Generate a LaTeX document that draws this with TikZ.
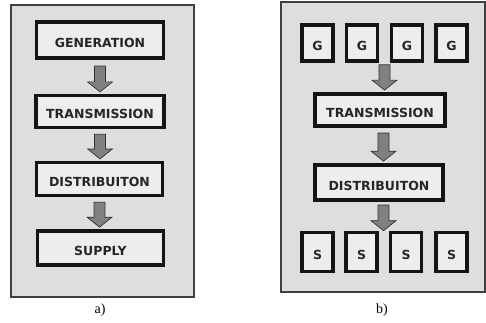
\documentclass[tikz,border=0pt]{standalone}
\usepackage{fontspec}
\setsansfont{DejaVu Sans}
\newfontfamily\capfont{Liberation Serif}
\usetikzlibrary{calc}
\definecolor{panelgray}{gray}{0.87}
\definecolor{boxgray}{gray}{0.93}
\definecolor{arrgray}{gray}{0.5}
\tikzset{
  panel/.style={draw=black!75, line width=1.3pt, fill=panelgray},
  wbox/.style={draw=black!92, line width=3.6pt, fill=boxgray, inner sep=0pt,
    font=\sffamily\bfseries\fontsize{12.5}{14}\selectfont, text=black!85,
    text height=15pt, text depth=0pt},
  sbox/.style={wbox, minimum width=31pt, minimum height=36pt},
  blockarr/.style={draw=black!80, line width=0.7pt, fill=arrgray, line join=miter},
  caption/.style={font=\capfont\fontsize{14}{16}\selectfont}
}
\newcommand\barrow[2]{\draw[blockarr] let \p1=(#1), \p2=(#2) in
  (\x1-5.5pt,\y1) -- (\x1+5.5pt,\y1) -- (\x1+5.5pt,\y2+10pt) -- (\x1+12.5pt,\y2+10pt)
  -- (\x1,\y2) -- (\x1-12.5pt,\y2+10pt) -- (\x1-5.5pt,\y2+10pt) -- cycle;}
\begin{document}
\begin{tikzpicture}[x=1pt,y=-1pt]
\useasboundingbox (0,0) rectangle (486,323);
% panel a
\path[panel] (11,5) rectangle (194,297);
\node[wbox, minimum width=127pt, minimum height=36.5pt] (gen) at (100,40) {GENERATION};
\node[wbox, minimum width=128pt, minimum height=32pt] (tra) at (100,111.5) {TRANSMISSION};
\node[wbox, minimum width=126pt, minimum height=33pt] (dis) at (99.5,179) {DISTRIBUITON};
\node[wbox, minimum width=126pt, minimum height=34.5pt] (sup) at (100.5,248) {SUPPLY};
\barrow{[yshift=-6pt]gen.south}{[yshift=1.8pt]tra.north}
\barrow{[yshift=-5pt]tra.south}{[yshift=1.8pt]dis.north}
\barrow{[yshift=-5pt]dis.south}{[yshift=1.8pt]sup.north}
\node[caption] (capa) at (100,310) {a)};
% panel b
\path[panel] (281,2) rectangle (485,292);
\node[sbox] (g1) at (317.5,43) {G};
\node[sbox] (g2) at (362,43) {G};
\node[sbox] (g3) at (407,43) {G};
\node[sbox] (g4) at (451.5,43) {G};
\node[wbox, minimum width=130.5pt, minimum height=32.5pt] (trb) at (380,110) {TRANSMISSION};
\node[wbox, minimum width=128.5pt, minimum height=35.5pt] (dib) at (379,182.5) {DISTRIBUITON};
\node[sbox, minimum height=39pt] (s1) at (317.5,252) {S};
\node[sbox, minimum height=39pt] (s2) at (361.5,252) {S};
\node[sbox, minimum height=39pt] (s3) at (406,252) {S};
\node[sbox, minimum height=39pt] (s4) at (451.5,252) {S};
\barrow{$([yshift=-2pt]g2.south)!0.5!([yshift=-2pt]g3.south)$}{[yshift=1.8pt]trb.north}
\barrow{[xshift=3.5pt,yshift=-5pt]trb.south}{[yshift=1.8pt]dib.north}
\barrow{[xshift=4.5pt,yshift=-3pt]dib.south}{$(s2.north)!0.5!(s3.north)$}
\node[caption] (capb) at (382,310) {b)};
\end{tikzpicture}
\end{document}
